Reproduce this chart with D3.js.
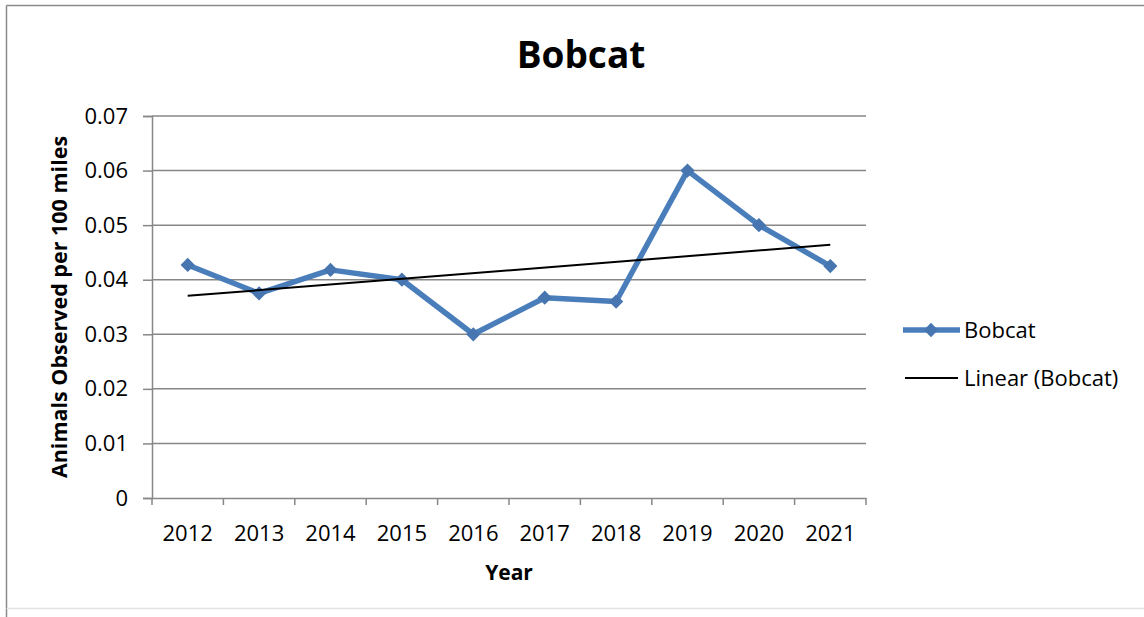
<!DOCTYPE html>
<html>
<head>
<meta charset="utf-8">
<script src="https://cdn.jsdelivr.net/npm/d3@7"></script>
<style>
  html, body { margin: 0; padding: 0; background: #fff; }
  svg text { font-family: "Open Sans", "Noto Sans", sans-serif; fill: #000; }
</style>
</head>
<body>
<svg id="chart" width="1144" height="617"></svg>
<script>
// Survey results: bobcats seen per 100 miles driven
const years = ["2012","2013","2014","2015","2016","2017","2018","2019","2020","2021"];
const bobcatRate = [0.0427, 0.0375, 0.0418, 0.0400, 0.0300, 0.0367, 0.0360, 0.0600, 0.0500, 0.0425];
const yTicks = [0, 0.01, 0.02, 0.03, 0.04, 0.05, 0.06, 0.07];
const chartTitle = "Bobcat";
const xTitle = "Year";
const yTitle = "Animals Observed per 100 miles";
const seriesName = "Bobcat";
const trendName = "Linear (Bobcat)";

const svg = d3.select("#chart");
const W = 1144, H = 617;
const plot = { left: 152, right: 866, top: 116, bottom: 498 };

// outer chart frame: strong top/left edges, faint bottom edge
svg.append("line").attr("x1", 6.5).attr("x2", W).attr("y1", 5.5).attr("y2", 5.5)
  .attr("stroke", "#8a8a8a").attr("stroke-width", 1.5);
svg.append("line").attr("x1", 6.5).attr("x2", 6.5).attr("y1", 5.5).attr("y2", H)
  .attr("stroke", "#8a8a8a").attr("stroke-width", 1.5);
svg.append("line").attr("x1", 6.5).attr("x2", W).attr("y1", 608.5).attr("y2", 608.5)
  .attr("stroke", "#e4e4e4").attr("stroke-width", 1.5);

const x = d3.scaleBand().domain(years).range([plot.left, plot.right]).padding(0);
const y = d3.scaleLinear().domain([0, 0.07]).range([plot.bottom, plot.top]);
const cx = d => x(d) + x.bandwidth() / 2;

// horizontal gridlines
svg.append("g").selectAll("line").data(yTicks.filter(t => t > 0)).join("line")
  .attr("x1", plot.left).attr("x2", plot.right)
  .attr("y1", d => y(d)).attr("y2", d => y(d))
  .attr("stroke", "#878787").attr("stroke-width", 1.5);

// y axis
const yAxis = svg.append("g").attr("transform", `translate(${plot.left},0)`)
  .call(d3.axisLeft(y).tickValues(yTicks).tickSize(9).tickPadding(15)
    .tickFormat(d => d === 0 ? "0" : d3.format(".2f")(d)));
yAxis.select(".domain").attr("stroke", "#878787").attr("stroke-width", 1.5);
yAxis.selectAll(".tick line").attr("stroke", "#878787").attr("stroke-width", 1.5);
yAxis.selectAll(".tick text").attr("font-size", 22).attr("fill", "#222");

// x axis with ticks on category boundaries
const xAxis = svg.append("g").attr("transform", `translate(0,${plot.bottom})`)
  .call(d3.axisBottom(x).tickSize(0).tickPadding(27));
xAxis.select(".domain").attr("stroke", "#878787").attr("stroke-width", 1.5);
xAxis.selectAll(".tick text").attr("font-size", 22).attr("fill", "#222");
const boundaries = years.map(d => x(d)).concat([plot.right]);
xAxis.selectAll(".bound").data(boundaries).join("line").attr("class", "bound")
  .attr("x1", d => d).attr("x2", d => d).attr("y1", 0).attr("y2", 7)
  .attr("stroke", "#878787").attr("stroke-width", 1.5);

// least-squares trendline over the category index
const n = bobcatRate.length;
const idx = d3.range(1, n + 1);
const mx = d3.mean(idx), my = d3.mean(bobcatRate);
const slope = d3.sum(idx, (v, i) => (v - mx) * (bobcatRate[i] - my)) / d3.sum(idx, v => (v - mx) ** 2);
const intercept = my - slope * mx;
const trend = years.map((yr, i) => ({ yr, v: intercept + slope * (i + 1) }));

const blue = "#4a7ebb";
const line = d3.line().x(d => cx(d.yr)).y(d => y(d.v));
const series = years.map((yr, i) => ({ yr, v: bobcatRate[i] }));

svg.append("path").datum(series)
  .attr("d", line).attr("fill", "none")
  .attr("stroke", blue).attr("stroke-width", 5.5).attr("stroke-linejoin", "round");

const diamond = d3.symbol().type(d3.symbolDiamond2).size(130);
svg.append("g").selectAll("path").data(series).join("path")
  .attr("transform", d => `translate(${cx(d.yr)},${y(d.v)})`)
  .attr("d", diamond).attr("fill", "#4675b0");

svg.append("path").datum([trend[0], trend[n - 1]])
  .attr("d", line).attr("fill", "none")
  .attr("stroke", "#000").attr("stroke-width", 2);

// titles
svg.append("text").attr("x", 581).attr("y", 68).attr("text-anchor", "middle")
  .attr("font-size", 37).attr("font-weight", "bold").text(chartTitle);
svg.append("text").attr("x", 509).attr("y", 580).attr("text-anchor", "middle")
  .attr("font-size", 21).attr("font-weight", "bold").text(xTitle);
svg.append("text").attr("transform", `translate(67,307) rotate(-90)`).attr("text-anchor", "middle")
  .attr("font-size", 21.5).attr("font-weight", "bold").text(yTitle);

// legend
const lg = svg.append("g");
lg.append("line").attr("x1", 903).attr("x2", 960).attr("y1", 330).attr("y2", 330)
  .attr("stroke", blue).attr("stroke-width", 5.5);
lg.append("path").attr("transform", "translate(931,330)").attr("d", diamond).attr("fill", "#4675b0");
lg.append("text").attr("x", 964).attr("y", 338).attr("font-size", 22).text(seriesName);
lg.append("line").attr("x1", 905).attr("x2", 958).attr("y1", 378).attr("y2", 378)
  .attr("stroke", "#000").attr("stroke-width", 2);
lg.append("text").attr("x", 964).attr("y", 386).attr("font-size", 22).text(trendName);
</script>
</body>
</html>
